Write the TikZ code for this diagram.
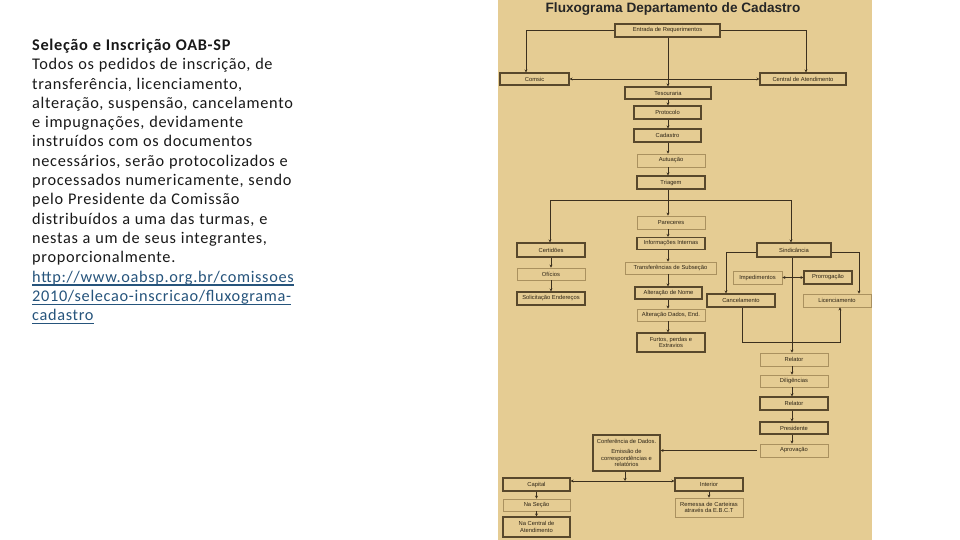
\documentclass[tikz,border=0pt]{standalone}
\usepackage{fontspec}
\setmainfont{Carlito}
\newfontfamily\bodyfont[LetterSpace=4.2,WordSpace=1.1]{Carlito}
\newfontfamily\arialfont{Liberation Sans}
\usetikzlibrary{arrows.meta}
\definecolor{tanbg}{RGB}{229,204,147}
\definecolor{darkedge}{RGB}{88,72,44}
\definecolor{lightedge}{RGB}{170,145,95}
\definecolor{wirecol}{RGB}{60,48,30}
\definecolor{linkblue}{RGB}{38,84,124}
\definecolor{boxtext}{RGB}{45,36,22}
\newcommand\myvlink[3]{\draw[arr] (#1.south -| #3) -- (#2.north -| #3);}
\begin{document}
\begin{tikzpicture}[x=1pt,y=-1pt,
 box/.style={draw=darkedge, line width=1.1pt, fill=tanbg, inner sep=0pt, align=center,
   font=\arialfont\fontsize{5.8}{6.2}\selectfont, text=boxtext, minimum width=68pt, minimum height=13pt},
 lbox/.style={box, draw=lightedge, line width=0.8pt},
 wire/.style={draw=wirecol, line width=0.7pt},
 arr/.style={wire, -{Stealth[length=3pt,width=3pt]}},
 darr/.style={wire, {Stealth[length=3pt,width=3pt]}-{Stealth[length=3pt,width=3pt]}},
 body/.style={anchor=base west, inner sep=0pt, font=\bodyfont\fontsize{16.3}{19.3}\selectfont, text=black!90},
 link/.style={body, text=linkblue},
 uline/.style={draw=linkblue, line width=1.3pt}]

\useasboundingbox (0,0) rectangle (960,540);
\fill[white] (0,0) rectangle (960,540);
\fill[tanbg] (498,0) rectangle (872,540);

% left text
\node[body, font=\bodyfont\bfseries\fontsize{16.3}{19.3}\selectfont] (l1) at (32,50.5) {Seleção e Inscrição OAB-SP};
\node[body] (l2) at (32,69.8) {Todos os pedidos de inscrição, de};
\node[body] (l3) at (32,89.1) {transferência, licenciamento,};
\node[body] (l4) at (32,108.4) {alteração, suspensão, cancelamento};
\node[body] (l5) at (32,127.7) {e impugnações, devidamente};
\node[body] (l6) at (32,147.0) {instruídos com os documentos};
\node[body] (l7) at (32,166.3) {necessários, serão protocolizados e};
\node[body] (l8) at (32,185.6) {processados numericamente, sendo};
\node[body] (l9) at (32,204.9) {pelo Presidente da Comissão};
\node[body] (l10) at (32,224.2) {distribuídos a uma das turmas, e};
\node[body] (l11) at (32,243.5) {nestas a um de seus integrantes,};
\node[body] (l12) at (32,262.8) {proporcionalmente.};
\node[link] (l13) at (32,282.1) {http://www.oabsp.org.br/comissoes};
\node[link] (l14) at (32,301.4) {2010/selecao-inscricao/fluxograma-};
\node[link] (l15) at (32,320.7) {cadastro};
\foreach \n in {l13,l14,l15}
  \draw[uline] ([yshift=-3pt]\n.base west) -- ([yshift=-3pt]\n.base east);

% title
\node[anchor=base, inner sep=0pt, font=\arialfont\bfseries\fontsize{13.6}{15}\selectfont, text=black!85] (title) at (673,12.5) {Fluxograma Departamento de Cadastro};

% boxes
\node[box, minimum width=105pt] (entrada) at (667.5,30.5) {Entrada de Requerimentos};
\node[box, minimum width=69pt, minimum height=12pt] (comsic) at (534.5,79) {Comsic};
\node[box, minimum width=86pt, minimum height=12pt] (central) at (803,79) {Central de Atendimento};
\node[box, minimum width=86pt, minimum height=12pt] (tesouraria) at (668,93) {Tesouraria};
\node[box, minimum width=67pt] (protocolo) at (667.5,112.5) {Protocolo};
\node[box, minimum width=67pt] (cadastro) at (667.5,135.5) {Cadastro};
\node[lbox] (autuacao) at (671,160.5) {Autuação};
\node[box] (triagem) at (671,182.5) {Triagem};
\node[lbox] (pareceres) at (671,222.5) {Pareceres};
\node[box, minimum height=12pt] (infint) at (671,243.5) {Informações Internas};
\node[lbox, minimum width=91pt, minimum height=12pt] (transf) at (670.5,268) {Transferências de Subseção};
\node[box, minimum width=67pt, minimum height=12pt] (altnome) at (668.5,293) {Alteração de Nome};
\node[lbox, minimum height=12pt] (altdados) at (671,315) {Alteração Dados, End.};
\node[box, minimum height=19pt] (furtos) at (671,342.5) {Furtos, perdas e\\Extravios};
\node[box, minimum height=14pt] (certidoes) at (551,250) {Certidões};
\node[lbox, minimum height=12pt] (oficios) at (551,274) {Ofícios};
\node[box] (solic) at (551,298.5) {Solicitação Endereços};
\node[box, minimum width=74pt, minimum height=14pt] (sindic) at (794,250) {Sindicância};
\node[lbox, minimum width=49pt] (imped) at (757.5,277.5) {Impedimentos};
\node[box, minimum width=48pt] (prorrog) at (828,277.5) {Prorrogação};
\node[box] (cancel) at (741,300.5) {Cancelamento};
\node[lbox] (licenc) at (837,300.5) {Licenciamento};
\node[lbox] (relatorA) at (794,359.5) {Relator};
\node[lbox, minimum height=12pt] (dilig) at (794,381) {Diligências};
\node[box] (relatorB) at (794,403.5) {Relator};
\node[box, minimum height=12pt] (presid) at (794,428) {Presidente};
\node[lbox] (aprov) at (794,450.5) {Aprovação};
\node[box, minimum width=67pt, minimum height=36pt] (confer) at (626.5,453) {Conferência de Dados.\\[4pt]Emissão de\\correspondências e\\relatórios};
\node[box, minimum width=67pt] (capital) at (536.5,484.5) {Capital};
\node[lbox, minimum width=67pt, minimum height=12pt] (nasecao) at (536.5,505) {Na Seção};
\node[box, minimum width=67pt, minimum height=20pt] (nacentral) at (536.5,527) {Na Central de\\Atendimento};
\node[box] (interior) at (709,484.5) {Interior};
\node[lbox, minimum height=19pt] (remessa) at (709,507.5) {Remessa de Carteiras\\através da E.B.C.T};

% helper coordinates
\coordinate (colx) at (668,0);
\coordinate (relx) at (792,0);
\coordinate (split) at (668,200);
\coordinate (loop) at (742,342);
\coordinate (junc) at (625,481);

% connectors
\draw[arr] (entrada.west) -| ([xshift=-8.5pt]comsic.north);
\draw[arr] (entrada.east) -| ([xshift=3pt]central.north);
\myvlink{entrada}{tesouraria}{colx}
\draw[darr] (comsic.east) -- (central.west);
\myvlink{tesouraria}{protocolo}{colx}
\myvlink{protocolo}{cadastro}{colx}
\myvlink{cadastro}{autuacao}{colx}
\myvlink{autuacao}{triagem}{colx}
\myvlink{triagem}{pareceres}{colx}
\draw[arr] (split) -| ([xshift=-1pt]certidoes.north);
\draw[arr] (split) -| ([xshift=-3pt]sindic.north);
\myvlink{pareceres}{infint}{colx}
\myvlink{infint}{transf}{colx}
\myvlink{transf}{altnome}{colx}
\myvlink{altnome}{altdados}{colx}
\myvlink{altdados}{furtos}{colx}
\myvlink{certidoes}{oficios}{certidoes}
\myvlink{oficios}{solic}{certidoes}
\draw[arr] ([yshift=-2pt]sindic.west) -| ([xshift=-15pt]cancel.north);
\draw[arr] ([yshift=-2pt]sindic.east) -| ([xshift=22pt]licenc.north);
\myvlink{sindic}{relatorA}{relx}
\draw[darr] (imped.east) -- (prorrog.west);
\draw[arr] (cancel.south -| loop) -- (loop) -| ([xshift=3pt]licenc.south);
\myvlink{relatorA}{dilig}{relx}
\myvlink{dilig}{relatorB}{relx}
\myvlink{relatorB}{presid}{relx}
\myvlink{presid}{aprov}{relx}
\draw[arr] ([xshift=-3pt]aprov.west) -- (aprov.west -| confer.east);
\draw[arr] (confer.south -| junc) -- (junc);
\draw[darr] (capital.east |- junc) -- (interior.west |- junc);
\myvlink{capital}{nasecao}{capital}
\myvlink{nasecao}{nacentral}{capital}
\myvlink{interior}{remessa}{interior}
\end{tikzpicture}
\end{document}
